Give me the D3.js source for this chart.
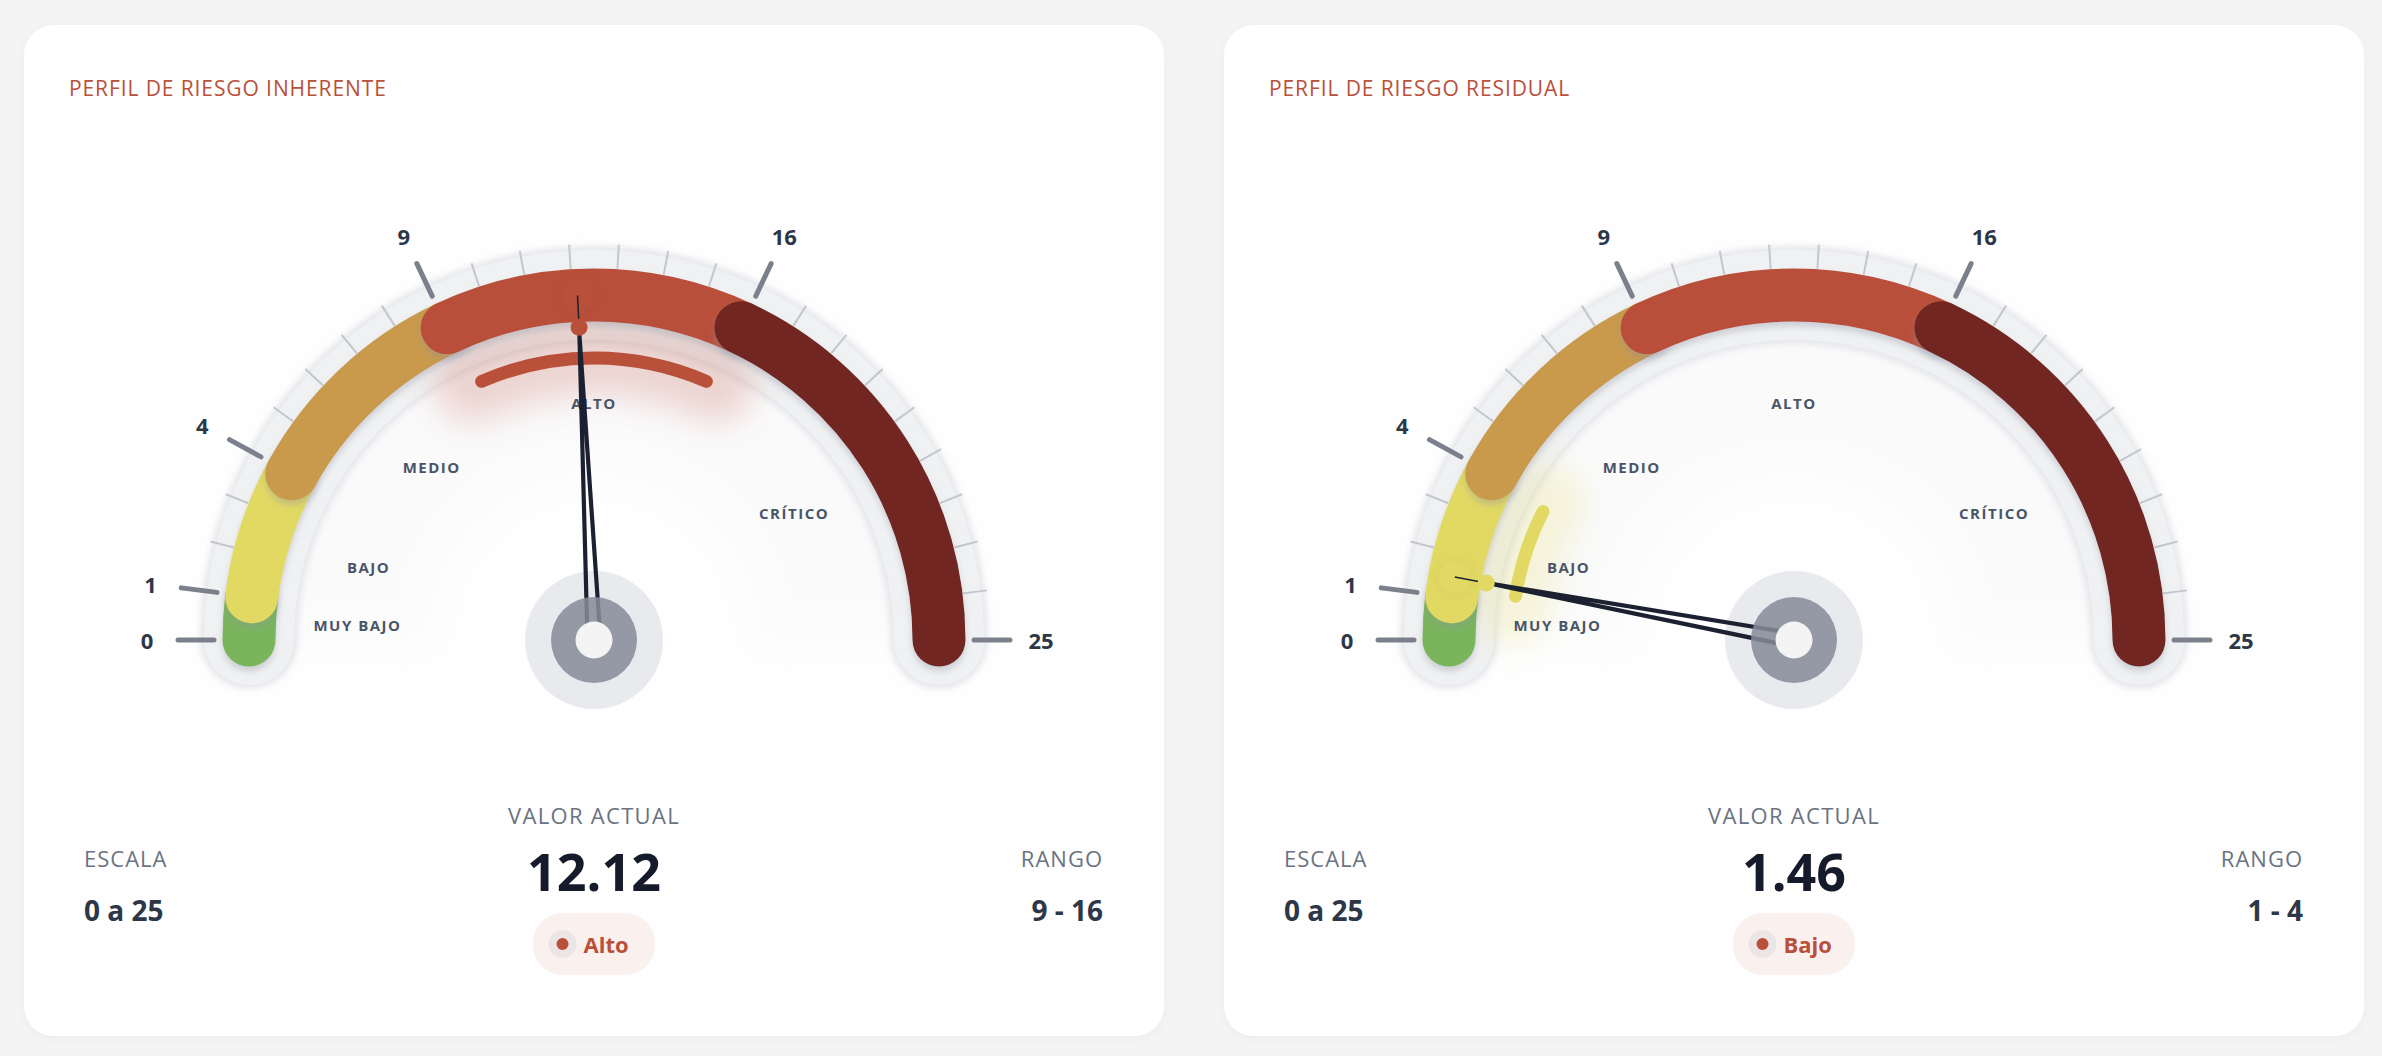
<!DOCTYPE html>
<html><head><meta charset="utf-8">
<script src="https://cdn.jsdelivr.net/npm/d3@7"></script>
<style>
html,body{margin:0;padding:0;background:#f4f4f4;}
svg{display:block;font-family:"Open Sans","Noto Sans",sans-serif;}
</style>
</head><body>
<svg id="chart" width="2382" height="1056"></svg>
<script>
// ---- data ----
const gaugeTitles = ["PERFIL DE RIESGO INHERENTE", "PERFIL DE RIESGO RESIDUAL"];
const gaugeValues = [12.12, 1.46];
const bandThresholds = [0, 1, 4, 9, 16, 25];
const bandNames = ["MUY BAJO", "BAJO", "MEDIO", "ALTO", "CRÍTICO"];
const badgeLabels = ["Muy bajo", "Bajo", "Medio", "Alto", "Crítico"];
const majorTicks = [0, 1, 4, 9, 16, 25];
const minorTicks = [2, 3, 5, 6, 7, 8, 10, 11, 12, 13, 14, 15, 17, 18, 19, 20, 21, 22, 23, 24];
const statLabels = ["ESCALA", "VALOR ACTUAL", "RANGO"];
const scaleText = "0 a 25";

// ---- styles ----
const bandColors = ["#7ab55b", "#e2d964", "#c99a4b", "#b9503a", "#722620"];
const cardX = [24, 1224], cardY = 25, cardW = 1140, cardH = 1011;
const cx = 570, cy = 615;
const R = 345;

const svg = d3.select("#chart");
const defs = svg.append("defs");
function mkFilter(id) {
  return defs.append("filter").attr("id", id).attr("filterUnits", "userSpaceOnUse")
    .attr("x", -100).attr("y", -100).attr("width", 1340).attr("height", 1250);
}
mkFilter("blurBig").append("feGaussianBlur").attr("stdDeviation", 16);
mkFilter("blurMid").append("feGaussianBlur").attr("stdDeviation", 5);
mkFilter("blurTrack").append("feGaussianBlur").attr("stdDeviation", 3);
mkFilter("bandShadow").append("feDropShadow").attr("dx", 0).attr("dy", 5).attr("stdDeviation", 3)
  .attr("flood-color", "#8a90a2").attr("flood-opacity", 0.35);
mkFilter("cardShadow").append("feDropShadow").attr("dx", 0).attr("dy", 2).attr("stdDeviation", 4)
  .attr("flood-color", "#000").attr("flood-opacity", 0.03);

const angle = d3.scaleLinear().domain([0, 25]).range([Math.PI, 2 * Math.PI]);
const pt = (v, r) => [cx + r * Math.cos(angle(v)), cy + r * Math.sin(angle(v))];
function arcPath(v0, v1, r, pad = 0) {
  const p = d3.path();
  p.arc(cx, cy, r, angle(v0) + pad, angle(v1) - pad, false);
  return p.toString();
}

gaugeValues.forEach((val, i) => {
  const g = svg.append("g").attr("transform", `translate(${cardX[i]},${cardY})`);
  const cat = Math.min(bandNames.length - 1, d3.bisectRight(bandThresholds, val) - 1);
  const catColor = bandColors[cat];

  // card
  g.append("rect").attr("width", cardW).attr("height", cardH).attr("rx", 30)
    .attr("fill", "#ffffff").attr("filter", "url(#cardShadow)");
  g.append("rect").attr("x", 28).attr("y", 138).attr("width", cardW - 56).attr("height", 845).attr("rx", 24)
    .attr("fill", "#fefefe");

  // title
  g.append("text").attr("x", 45).attr("y", 71).text(gaugeTitles[i])
    .attr("fill", "#b9503a").attr("font-size", 21).attr("letter-spacing", 0.9);

  // faint background glow
  g.append("path").attr("d", arcPath(0, 25, R - 80)).attr("fill", "none")
    .attr("stroke", "#f1f2f4").attr("stroke-width", 200).attr("opacity", 0.25).attr("filter", "url(#blurBig)");

  // hub halo
  g.append("circle").attr("cx", cx).attr("cy", cy).attr("r", 69).attr("fill", "#e9eaee");

  // track
  g.append("path").attr("d", arcPath(0, 25, R)).attr("fill", "none")
    .attr("stroke", "#e6e7eb").attr("stroke-width", 98).attr("stroke-linecap", "round").attr("filter", "url(#blurTrack)");
  g.append("path").attr("d", arcPath(0, 25, R)).attr("fill", "none")
    .attr("stroke", "#f0f1f2").attr("stroke-width", 90).attr("stroke-linecap", "round");

  // minor ticks
  g.selectAll(".minor").data(minorTicks).join("line")
    .attr("x1", d => pt(d, 372)[0]).attr("y1", d => pt(d, 372)[1])
    .attr("x2", d => pt(d, 396)[0]).attr("y2", d => pt(d, 396)[1])
    .attr("stroke", "#c3c6cc").attr("stroke-width", 2);
  // major ticks
  g.selectAll(".major").data(majorTicks).join("line")
    .attr("x1", d => pt(d, 380)[0]).attr("y1", d => pt(d, 380)[1])
    .attr("x2", d => pt(d, 416)[0]).attr("y2", d => pt(d, 416)[1])
    .attr("stroke", "#7c808d").attr("stroke-width", 5).attr("stroke-linecap", "round");
  // tick labels
  g.selectAll(".tlabel").data(majorTicks).join("text")
    .attr("x", d => pt(d, 447)[0]).attr("y", d => pt(d, 447)[1])
    .attr("text-anchor", "middle").attr("dominant-baseline", "central")
    .attr("font-size", 22).attr("font-weight", 700).attr("fill", "#2d3748")
    .text(d => d);

  // category glow
  g.append("path").attr("d", arcPath(bandThresholds[cat], bandThresholds[cat + 1], 285)).attr("fill", "none")
    .attr("stroke", catColor).attr("stroke-width", 80).attr("stroke-linecap", "round")
    .attr("opacity", 0.22).attr("filter", "url(#blurBig)");

  // bands
  g.selectAll(".band").data(bandNames).join("path")
    .attr("d", (d, j) => arcPath(bandThresholds[j], bandThresholds[j + 1], R))
    .attr("fill", "none").attr("stroke", (d, j) => bandColors[j])
    .attr("stroke-width", 53).attr("stroke-linecap", "round")
    .attr("filter", "url(#bandShadow)");

  // inner category arc
  g.append("path").attr("d", arcPath(bandThresholds[cat], bandThresholds[cat + 1], 282, 0.03)).attr("fill", "none")
    .attr("stroke", catColor).attr("stroke-width", 13).attr("stroke-linecap", "round");

  // category labels
  g.selectAll(".clabel").data(bandNames).join("text")
    .attr("x", (d, j) => pt((bandThresholds[j] + bandThresholds[j + 1]) / 2, 237)[0])
    .attr("y", (d, j) => pt((bandThresholds[j] + bandThresholds[j + 1]) / 2, 237)[1])
    .attr("text-anchor", "middle").attr("dominant-baseline", "central")
    .attr("font-size", 15).attr("font-weight", 700).attr("letter-spacing", 1.5)
    .attr("fill", "#4a5568").text(d => d);

  // needle
  const a = angle(val);
  const ux = Math.cos(a), uy = Math.sin(a);
  const nx = -uy, ny = ux;
  const hw = 6.5, tipR = 306;
  const needle = d3.path();
  needle.moveTo(cx + nx * hw, cy + ny * hw);
  needle.lineTo(cx + ux * tipR, cy + uy * tipR);
  needle.lineTo(cx - nx * hw, cy - ny * hw);
  g.append("path").attr("d", needle.toString()).attr("fill", "none")
    .attr("stroke", "#1b2131").attr("stroke-width", 4.2).attr("stroke-linejoin", "round");
  // glow circle on band
  const [gx, gy] = pt(val, R);
  g.append("circle").attr("cx", gx).attr("cy", gy).attr("r", 22).attr("fill", d3.color(catColor).darker(0.3))
    .attr("opacity", 0.18).attr("filter", "url(#blurMid)");
  g.append("circle").attr("cx", gx).attr("cy", gy).attr("r", 16).attr("fill", catColor);
  // thin line
  const [tx, ty] = pt(val, 313);
  g.append("line").attr("x1", tx).attr("y1", ty).attr("x2", gx).attr("y2", gy)
    .attr("stroke", "#1b2131").attr("stroke-width", 1.5);
  g.append("circle").attr("cx", tx).attr("cy", ty).attr("r", 8.5).attr("fill", catColor);

  // hub
  g.append("circle").attr("cx", cx).attr("cy", cy).attr("r", 43).attr("fill", "#878c99").attr("opacity", 0.86);
  g.append("circle").attr("cx", cx).attr("cy", cy).attr("r", 18.5).attr("fill", "#f4f4f5");

  // stats
  g.append("text").attr("x", 60).attr("y", 842).text(statLabels[0])
    .attr("font-size", 22).attr("letter-spacing", 1).attr("fill", "#6b7280");
  g.append("text").attr("x", 60).attr("y", 896).text(scaleText)
    .attr("font-size", 28).attr("font-weight", 700).attr("fill", "#2d3748");
  g.append("text").attr("x", cx).attr("y", 799).attr("text-anchor", "middle").text(statLabels[1])
    .attr("font-size", 22).attr("letter-spacing", 1.3).attr("fill", "#6b7280");
  g.append("text").attr("x", cx).attr("y", 866).attr("text-anchor", "middle").text(d3.format(".2f")(val))
    .attr("font-size", 52).attr("font-weight", 700).attr("fill", "#161b2b");
  g.append("text").attr("x", cardW - 61).attr("y", 842).attr("text-anchor", "end").text(statLabels[2])
    .attr("font-size", 22).attr("letter-spacing", 1).attr("fill", "#6b7280");
  g.append("text").attr("x", cardW - 61).attr("y", 896).attr("text-anchor", "end")
    .text(`${bandThresholds[cat]} - ${bandThresholds[cat + 1]}`)
    .attr("font-size", 28).attr("font-weight", 700).attr("fill", "#2d3748");

  // badge
  const pillW = 123, pillH = 62;
  const px = cx - pillW / 2, py = 888;
  g.append("rect").attr("x", px).attr("y", py).attr("width", pillW).attr("height", pillH).attr("rx", pillH / 2)
    .attr("fill", "#faf1ef");
  g.append("circle").attr("cx", px + 30).attr("cy", py + 31).attr("r", 14).attr("fill", "#ebe6e5");
  g.append("circle").attr("cx", px + 30).attr("cy", py + 31).attr("r", 6).attr("fill", "#b9503a");
  g.append("text").attr("x", px + 51).attr("y", py + 40).text(badgeLabels[cat])
    .attr("font-size", 22).attr("font-weight", 700).attr("fill", "#b9503a");
});
</script>
</body></html>
